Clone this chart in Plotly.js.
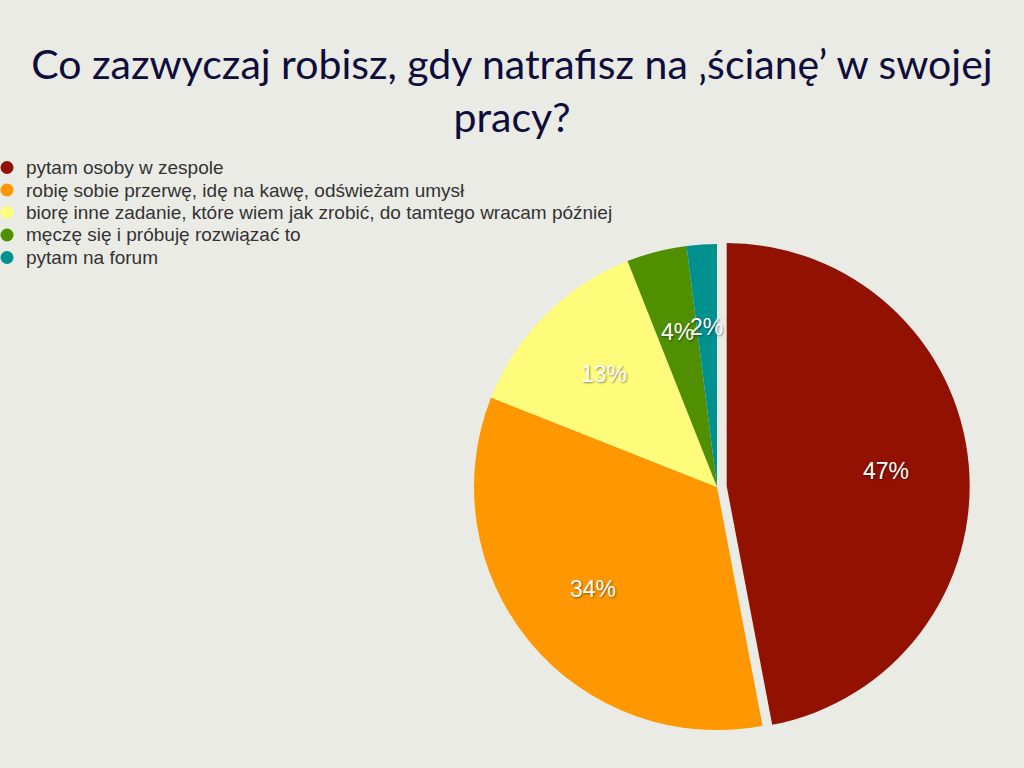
<!DOCTYPE html>
<html>
<head>
<meta charset="utf-8">
<script src="https://cdn.plot.ly/plotly-3.0.1.min.js"></script>
<style>html,body{margin:0;padding:0;background:#ebebe6;}</style>
</head>
<body>
<div id="chart" style="width:1024px;height:768px;"></div>
<script>
const categories = [
  "pytam osoby w zespole",
  "robię sobie przerwę, idę na kawę, odświeżam umysł",
  "biorę inne zadanie, które wiem jak zrobić, do tamtego wracam później",
  "męczę się i próbuję rozwiązać to",
  "pytam na forum"
];
const values = [47, 34, 13, 4, 2];
const colors = ["#931100", "#ff9700", "#fffc7b", "#4f8f00", "#00918f"];
const titleText = "Co zazwyczaj robisz, gdy natrafisz na ‚ścianę’ w swojej<br>pracy?";

const W = 1024, H = 768;
const pieDomain = {x: [0.4534, 0.9470], y: [0.0368, 0.6949]};
const pullFrac = 0.04;
const pie = {
  type: 'pie',
  labels: categories,
  values: values,
  sort: false,
  direction: 'clockwise',
  rotation: 0,
  pull: values.map((v, i) => i === 0 ? pullFrac : 0),
  marker: {colors: colors, line: {width: 0}},
  textinfo: 'none',
  hoverinfo: 'label+percent',
  showlegend: false,
  domain: pieDomain
};

// pie geometry (used to place percentage labels along each slice's middle angle)
const boxPx = Math.min((pieDomain.x[1] - pieDomain.x[0]) * W, (pieDomain.y[1] - pieDomain.y[0]) * H);
const rPx = boxPx / (2 * (1 + pullFrac));
const cx = (pieDomain.x[0] + pieDomain.x[1]) / 2;
const cy = (pieDomain.y[0] + pieDomain.y[1]) / 2;
const total = values.reduce((a, b) => a + b, 0);
const annotations = [];
let cum = 0;
values.forEach((v, i) => {
  const mid = (cum + v / 2) / total * 2 * Math.PI;
  cum += v;
  const rr = 0.66 * rPx + (i === 0 ? pullFrac * rPx : 0);
  annotations.push({
    xref: 'paper', yref: 'paper',
    x: cx + rr * Math.sin(mid) / W,
    y: cy + rr * Math.cos(mid) / H,
    xanchor: 'center', yanchor: 'middle',
    text: Math.round(v / total * 100) + '%',
    showarrow: false,
    font: {family: 'Liberation Sans, Arial, sans-serif', size: 23, color: '#ffffff', shadow: '1px 1px 2px rgba(0,0,0,0.45)'}
  });
});

// legend (circle bullets + labels)
const legendTopPx = 167.5, legendStepPx = 22.5;
const shapes = [];
categories.forEach((c, i) => {
  const yPaper = 1 - (legendTopPx + i * legendStepPx) / H;
  shapes.push({
    type: 'circle', xref: 'paper', yref: 'paper',
    xsizemode: 'pixel', ysizemode: 'pixel',
    xanchor: 0, yanchor: yPaper,
    x0: 0.5, x1: 13.5, y0: -6.5, y1: 6.5,
    fillcolor: colors[i], line: {width: 0}
  });
  annotations.push({
    xref: 'paper', yref: 'paper',
    x: 23.5 / W, y: yPaper,
    xanchor: 'left', yanchor: 'middle',
    text: c, showarrow: false, align: 'left',
    font: {family: 'Liberation Sans, Arial, sans-serif', size: 19, color: '#333333'}
  });
});

const layout = {
  width: W, height: H,
  margin: {l: 0, r: 0, t: 0, b: 0},
  paper_bgcolor: '#ebebe6',
  plot_bgcolor: '#ebebe6',
  title: {
    text: titleText,
    font: {family: 'Lato, sans-serif', size: 41, color: '#0d0c3a'},
    x: 0.5, xanchor: 'center',
    y: 0.897, yanchor: 'top', yref: 'paper'
  },
  annotations: annotations,
  shapes: shapes,
  showlegend: false
};

Plotly.newPlot('chart', [pie], layout, {displayModeBar: false, staticPlot: true});
</script>
</body>
</html>
